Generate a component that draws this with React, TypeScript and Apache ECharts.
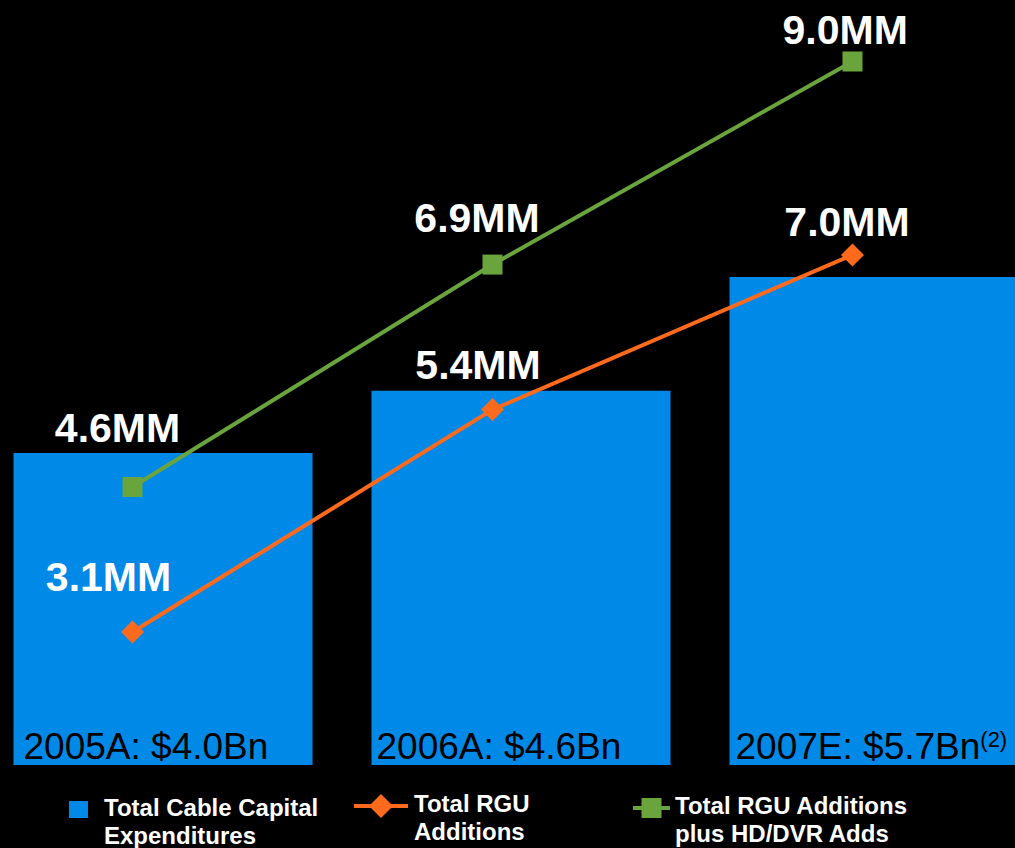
import React, { useEffect, useRef } from "react";
import * as echarts from "echarts";

// ---- data ----
const categories = ["2005A", "2006A", "2007E"];
const capexBn = [4.0, 4.6, 5.7];
const capexNotes = ["", "", "(2)"];
const rguAdditionsMM = [3.1, 5.4, 7.0];
const rguPlusHdDvrMM = [4.6, 6.9, 9.0];

const SERIES_CAPEX = "Total Cable Capital Expenditures";
const SERIES_RGU = "Total RGU Additions";
const SERIES_RGU_PLUS = "Total RGU Additions plus HD/DVR Adds";

const legendText: Record<string, string> = {
  [SERIES_CAPEX]: "Total Cable Capital\nExpenditures",
  [SERIES_RGU]: "Total RGU\nAdditions",
  [SERIES_RGU_PLUS]: "Total RGU Additions\nplus HD/DVR Adds",
};

// ---- layout (label nudges, px) ----
const SHIFT = 16; // chart canvas starts 16px left of the page so the first bar reaches its edge
const capexLabelShift = [10, 5, 6];
const rguLabelOffsets = [
  [-24, -55],
  [-14.5, -44.5],
  [-5.5, -33],
];
const plusLabelOffsets = [
  [-15, -59],
  [-15.5, -46.5],
  [-7.3, -32],
];

const FONT = "'Liberation Sans', Arial, Helvetica, sans-serif";
const BLUE = "#0089E6";
const ORANGE = "#FF6A1C";
const GREEN = "#6AA43C";

export default function App() {
  const ref = useRef<HTMLDivElement>(null);

  useEffect(() => {
    if (!ref.current) return;
    const chart = echarts.init(ref.current, null, { renderer: "svg" });

    const lineLabel = {
      show: true,
      position: "inside",
      color: "#ffffff",
      fontSize: 41,
      fontWeight: "bold",
      fontFamily: FONT,
      formatter: (p: any) => Number(p.value).toFixed(1) + "MM",
    };

    const legendBase = {
      orient: "horizontal",
      padding: 0,
      selectedMode: false,
      formatter: (name: string) => "{pad| }\n" + (legendText[name] ?? name),
    };
    const legendTextStyle = (padLeft: number) => ({
      color: "#ffffff",
      fontSize: 24,
      fontWeight: "bold",
      fontFamily: FONT,
      lineHeight: 28,
      padding: [0, 0, 0, padLeft],
      rich: {
        pad: { fontSize: 2, lineHeight: 23 },
      },
    });

    chart.setOption({
      animation: false,
      backgroundColor: "#000000",
      grid: [
        { left: 0, right: 0, top: 38.9, bottom: 83 },
        { left: 132.5 + SHIFT, right: 1074 - 852.5 - SHIFT, top: 13.15, bottom: 109.6 },
      ],
      xAxis: [
        { gridIndex: 0, type: "category", data: categories, show: false },
        {
          gridIndex: 1,
          type: "category",
          data: categories,
          boundaryGap: false,
          show: false,
        },
      ],
      yAxis: [
        { gridIndex: 0, type: "value", min: 0.986, max: 8, show: false },
        { gridIndex: 1, type: "value", min: 2, max: 9.5, show: false },
      ],
      legend: [
        {
          ...legendBase,
          data: [SERIES_CAPEX],
          left: 69 + SHIFT,
          top: 770,
          icon: "rect",
          itemWidth: 19,
          itemHeight: 17,
          textStyle: legendTextStyle(11),
        },
        {
          ...legendBase,
          data: [SERIES_RGU],
          left: 352 + SHIFT,
          top: 766.5,
          itemWidth: 54,
          itemHeight: 30,
          lineStyle: { width: 4 },
          textStyle: legendTextStyle(1),
        },
        {
          ...legendBase,
          data: [SERIES_RGU_PLUS],
          left: 631 + SHIFT,
          top: 768.5,
          itemWidth: 37,
          itemHeight: 25,
          lineStyle: { width: 4 },
          textStyle: legendTextStyle(0),
        },
      ],
      series: [
        {
          name: SERIES_CAPEX,
          type: "bar",
          xAxisIndex: 0,
          yAxisIndex: 0,
          barWidth: 299,
          itemStyle: { color: BLUE },
          data: capexBn.map((v, i) => ({
            value: v,
            label: { offset: [capexLabelShift[i], 0] },
          })),
          label: {
            show: true,
            position: "insideBottomLeft",
            distance: 0,
            formatter: (p: any) => {
              const i = p.dataIndex;
              const main = `{main|${categories[i]}: $${capexBn[i].toFixed(1)}Bn}`;
              return capexNotes[i] ? main + `{sup|${capexNotes[i]}}` : main;
            },
            rich: {
              main: {
                fontSize: 37,
                color: "#000000",
                fontFamily: FONT,
              },
              sup: {
                fontSize: 22,
                color: "#000000",
                fontFamily: FONT,
                verticalAlign: "top",
              },
            },
          },
          z: 1,
        },
        {
          name: SERIES_RGU,
          type: "line",
          xAxisIndex: 1,
          yAxisIndex: 1,
          symbol: "diamond",
          symbolSize: 23,
          lineStyle: { color: ORANGE, width: 4 },
          itemStyle: { color: ORANGE },
          data: rguAdditionsMM.map((v, i) => ({
            value: v,
            label: { offset: rguLabelOffsets[i] },
          })),
          label: lineLabel,
          z: 3,
        },
        {
          name: SERIES_RGU_PLUS,
          type: "line",
          xAxisIndex: 1,
          yAxisIndex: 1,
          symbol: "rect",
          symbolSize: 20,
          lineStyle: { color: GREEN, width: 4 },
          itemStyle: { color: GREEN },
          data: rguPlusHdDvrMM.map((v, i) => ({
            value: v,
            label: { offset: plusLabelOffsets[i] },
          })),
          label: lineLabel,
          z: 3,
        },
      ],
    });

    return () => chart.dispose();
  }, []);

  return (
    <div
      ref={ref}
      style={{
        position: "fixed",
        left: -SHIFT,
        top: 0,
        width: 1074,
        height: 848,
      }}
    />
  );
}
